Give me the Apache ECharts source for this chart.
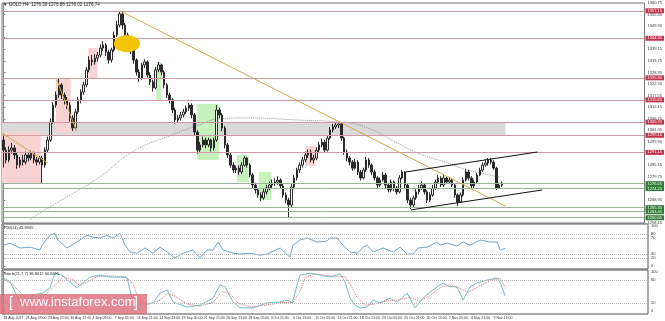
<!DOCTYPE html>
<html><head><meta charset="utf-8">
<script src="https://cdn.jsdelivr.net/npm/echarts@6/dist/echarts.min.js"></script>
<style>html,body{margin:0;padding:0;background:#fff}#c{width:665px;height:321px}</style>
</head><body><div id="c"></div>
<script>
const xLabels = ['18 Aug 2017','23 Aug 09:00','28 Aug 01:00','30 Aug 17:00','4 Sep 09:00','7 Sep 05:00','11 Sep 21:00','14 Sep 13:00','19 Sep 05:00','21 Sep 21:00','26 Sep 13:00','29 Sep 05:00','3 Oct 21:00','6 Oct 13:00','11 Oct 05:00','13 Oct 21:00','18 Oct 13:00','23 Oct 05:00','25 Oct 21:00','30 Oct 13:00','2 Nov 05:00','6 Nov 21:00','9 Nov 13:00'];
const yTickLabels = ['1258.15','1263.55','1268.95','1274.35','1279.75','1285.15','1290.55','1295.95','1301.35','1306.75','1312.15','1317.55','1322.95','1328.35','1333.75','1339.15','1344.55','1349.95','1355.35','1360.75'];
const firstOpen = 1296.9;
const closes = [
1292.2,1287.6,1292.2,1293.2,1289.9,1285.2,1287.6,1286.6,1289.9,1288.5,
1290.8,1287.6,1286.6,1288.5,1285.2,1292.2,1296.9,1305.3,1313.2,1317.9,
1322.6,1317.9,1315.6,1313.2,1307.2,1302.5,1310.0,1315.6,1319.3,1322.6,
1329.6,1334.2,1333.3,1335.1,1336.5,1339.8,1341.2,1337.9,1334.2,1338.9,
1345.9,1350.5,1355.7,1350.5,1345.9,1341.2,1338.9,1334.2,1328.6,1325.8,
1331.9,1333.3,1327.2,1324.0,1321.2,1329.6,1331.9,1328.6,1322.6,1317.9,
1315.6,1310.9,1306.2,1307.2,1308.6,1310.0,1311.8,1313.2,1308.6,1300.6,
1292.2,1294.6,1296.9,1294.6,1296.9,1293.2,1296.9,1310.9,1308.6,1302.5,
1294.6,1289.9,1285.2,1282.9,1283.8,1282.0,1285.2,1288.5,1285.2,1280.6,
1275.9,1273.6,1271.3,1269.9,1272.7,1274.5,1275.9,1276.8,1277.3,1278.2,
1275.5,1271.3,1268.9,1266.6,1275.0,1279.2,1282.9,1285.2,1287.6,1289.9,
1291.3,1287.6,1288.5,1292.2,1294.6,1295.9,1292.2,1297.8,1301.6,1303.0,
1303.9,1304.4,1297.8,1291.3,1288.5,1286.6,1283.8,1286.6,1282.0,1279.2,
1282.9,1287.6,1285.2,1282.0,1279.2,1275.9,1278.2,1280.6,1275.9,1273.6,
1277.3,1274.5,1272.7,1279.2,1282.0,1275.9,1268.9,1266.6,1269.9,1272.7,
1274.5,1275.9,1272.7,1268.9,1271.3,1274.5,1277.3,1279.2,1275.9,1279.2,
1277.3,1278.2,1275.9,1271.3,1268.0,1271.3,1278.2,1282.0,1279.2,1275.5,
1277.3,1280.6,1282.9,1285.2,1286.2,1287.6,1286.6,1283.8,1274.5,1275.9,1276.74];
const highs = [
1299.5,1293.5,1294.0,1295.5,1294.5,1291.0,1289.0,1290.0,1291.5,1291.0,
1292.0,1291.5,1289.0,1289.5,1289.5,1293.5,1298.5,1307.0,1314.5,1319.5,
1325.8,1323.5,1319.0,1317.0,1314.5,1308.5,1311.5,1317.0,1320.5,1324.0,
1331.0,1336.0,1336.5,1337.0,1338.0,1341.5,1343.0,1342.0,1339.0,1340.0,
1347.5,1352.5,1357.1,1356.5,1351.5,1347.0,1343.0,1340.0,1335.0,1330.0,
1333.0,1334.5,1334.0,1328.5,1325.0,1331.0,1333.3,1332.5,1329.5,1323.5,
1319.0,1316.5,1312.0,1308.5,1310.0,1311.5,1313.0,1314.2,1314.0,1309.5,
1301.5,1296.0,1298.5,1298.0,1298.0,1297.5,1298.0,1313.2,1312.0,1309.5,
1303.5,1295.5,1291.0,1286.5,1285.0,1285.0,1286.5,1289.4,1289.0,1286.0,
1281.5,1277.0,1274.5,1272.5,1274.0,1276.0,1277.5,1278.5,1279.0,1280.0,
1279.0,1276.5,1272.5,1270.0,1276.5,1280.5,1284.0,1286.5,1289.0,1291.5,
1292.5,1292.5,1290.0,1293.5,1296.0,1297.5,1297.0,1299.0,1303.0,1304.5,
1305.3,1305.2,1305.0,1298.5,1292.5,1289.5,1287.5,1288.0,1287.5,1283.0,
1284.0,1289.0,1288.5,1286.0,1283.0,1280.0,1279.5,1282.0,1281.5,1277.0,
1278.5,1278.0,1275.5,1280.5,1282.9,1282.5,1276.5,1270.0,1271.0,1274.0,
1276.0,1277.5,1276.5,1273.5,1272.5,1276.0,1278.5,1280.5,1280.0,1280.5,
1280.0,1279.5,1279.0,1276.5,1272.0,1272.5,1279.5,1283.5,1283.0,1280.0,
1278.5,1281.5,1284.0,1286.5,1287.5,1288.5,1288.5,1287.5,1284.5,1277.0,1277.5];
const lows = [
1284.0,1286.0,1286.5,1290.5,1288.0,1283.5,1284.0,1285.0,1285.5,1287.0,
1287.5,1286.0,1285.0,1285.5,1276.8,1284.0,1291.0,1296.0,1304.5,1312.0,
1316.5,1316.0,1313.5,1311.5,1305.5,1301.1,1301.5,1309.0,1314.0,1318.0,
1321.5,1328.5,1331.5,1332.0,1333.5,1335.5,1338.5,1336.0,1332.5,1333.0,
1338.0,1345.0,1349.5,1348.5,1344.0,1339.5,1337.0,1332.5,1327.0,1324.0,
1325.0,1330.5,1326.0,1322.5,1319.5,1320.5,1328.5,1327.0,1321.0,1316.5,
1314.0,1309.5,1304.5,1305.0,1306.0,1307.5,1309.0,1310.5,1307.0,1299.0,
1290.5,1291.0,1293.5,1293.0,1293.5,1291.5,1292.0,1296.0,1307.0,1301.0,
1293.0,1288.5,1284.0,1281.5,1281.5,1280.5,1281.0,1284.5,1284.0,1279.5,
1274.5,1272.0,1270.0,1268.5,1269.0,1271.5,1273.5,1274.5,1275.5,1276.0,
1274.5,1270.0,1267.5,1261.0,1265.5,1274.0,1278.0,1281.5,1284.0,1286.5,
1288.5,1286.5,1286.0,1287.5,1291.0,1293.5,1291.0,1291.5,1297.0,1300.5,
1302.0,1302.5,1296.5,1290.0,1287.0,1285.0,1282.5,1283.0,1280.5,1278.0,
1278.5,1282.0,1284.0,1280.5,1278.0,1274.5,1275.0,1277.5,1274.5,1272.5,
1272.5,1273.0,1271.5,1272.0,1278.5,1274.5,1267.5,1264.7,1265.5,1269.0,
1271.5,1273.5,1271.5,1267.5,1268.0,1270.5,1273.5,1276.5,1275.0,1275.0,
1276.5,1276.5,1275.0,1270.0,1266.1,1267.5,1270.5,1277.5,1278.0,1274.5,
1274.5,1276.5,1280.0,1282.0,1284.5,1285.0,1285.5,1283.0,1273.6,1274.0,1275.0];
const resistanceLevels = [1357.15,1344.35,1325.90,1315.65,1305.25,1299.10,1291.15];
const supportLevels = [1276.55,1274.25,1265.35,1263.45,1260.65];
// zones: [startSlot, endSlot, lowPrice, highPrice]
const pinkZones = [[-0.5,13.5,1276.8,1300.6],[18.9,24.3,1300.2,1325.8],[30.7,34.0,1325.8,1339.8],[109.0,112.6,1284.8,1294.1]];
const greenZones = [[55.2,57.0,1315.6,1333.3],[69.9,77.8,1287.6,1313.7],[84.3,88.6,1277.3,1289.9],[92.2,96.8,1268.9,1282.0]];
const grayZone = [-0.5,181.3,1299.10,1305.25];
const maLine = [[9.6,1259.6],[10.3,1260.5],[22.8,1270.3],[34.7,1279.6],[46.5,1291.3],[58.8,1298.3],[70.6,1303.9],[77.8,1306.7],[88.6,1307.2],[106.5,1306.2],[120.9,1305.3],[130.6,1303.0],[142.3,1295.5],[149.6,1290.8],[160.4,1286.2],[167.6,1282.9],[179.5,1279.6]];
const longTrend = [[42.2,1357.1],[181.3,1266.1]];
const shortTrend1 = [[-0.5,1300.2],[16.0,1286.2]];
const shortTrend2 = [[19.3,1324.9],[26.4,1301.1]];
const channelUpper = [[145.3,1282.0],[192.8,1291.3]];
const channelLower = [[147.1,1264.3],[194.5,1273.6]];
const highlight = [[44.6,1341.8]];
const rsi = [[0,52],[2.4,57],[6.0,45],[9.6,47],[13.1,40],[13.9,52],[16.7,77],[18.5,82],[19.6,65],[22.8,45],[26.4,60],[30.0,77],[32.2,72],[34.7,70],[37.2,77],[39.4,70],[41.9,82],[43.7,52],[45.5,35],[48.0,32],[50.9,45],[53.7,32],[56.3,47],[58.8,35],[61.6,20],[64.5,32],[68.1,40],[70.6,20],[73.1,40],[75.3,40],[77.1,60],[78.9,40],[82.5,32],[85.0,30],[88.6,32],[92.2,27],[94.7,30],[99.4,45],[102.9,22],[104.0,52],[106.5,65],[109.1,70],[112.6,60],[116.2,62],[117.3,70],[119.8,70],[122.0,52],[124.5,35],[127.0,32],[129.2,47],[130.6,52],[132.8,35],[136.4,45],[140.0,35],[142.5,47],[145.0,30],[147.1,30],[148.9,45],[152.2,47],[155.7,60],[156.8,52],[159.3,57],[162.9,50],[165.1,60],[167.6,52],[171.2,65],[174.8,60],[177.3,60],[178.4,40],[180.2,43.89]];
const stochMain = [[0,85],[2.4,75],[6.0,23],[8.5,15],[10.6,41],[14.2,46],[16.7,59],[18.5,97],[21.0,92],[23.9,74],[26.4,59],[28.6,72],[31.1,87],[34.7,92],[38.3,87],[41.9,87],[44.4,85],[46.2,33],[48.0,15],[50.1,15],[53.7,21],[56.3,46],[58.8,54],[60.9,23],[65.9,10],[70.6,15],[75.3,33],[77.8,67],[79.6,62],[82.5,23],[85.0,8],[89.7,8],[94.7,21],[99.4,23],[101.9,28],[103.7,21],[106.5,92],[110.1,97],[113.7,92],[117.3,87],[120.9,95],[122.7,74],[124.5,33],[126.3,15],[128.1,8],[130.6,10],[132.8,28],[135.3,21],[138.9,33],[141.4,23],[145.0,46],[147.8,8],[150.7,33],[154.3,54],[157.9,72],[160.4,62],[162.9,62],[165.1,28],[167.6,62],[170.1,72],[173.7,79],[177.3,85],[178.4,74],[180.2,38.8]];
const stochSignal = [[0,82],[3.1,70],[7.8,35],[11.3,25],[14.9,40],[18.5,65],[21.4,88],[25.0,80],[27.5,65],[30.4,75],[33.6,88],[38.3,90],[43.7,88],[46.6,70],[48.0,40],[49.8,20],[52.7,18],[56.3,28],[58.8,45],[61.6,38],[65.9,18],[70.6,12],[75.3,22],[78.5,50],[81.4,45],[84.3,20],[88.6,10],[94.0,15],[100.4,22],[104.0,22],[106.5,50],[108.3,85],[111.9,95],[117.3,90],[122.7,88],[124.5,70],[127.0,35],[129.9,15],[133.5,18],[137.0,25],[141.4,28],[146.0,35],[149.6,25],[153.2,40],[156.8,60],[160.4,67],[164.0,58],[166.9,48],[170.5,62],[174.8,78],[178.4,84],[180.2,60.8]];

const nSlots = 232;
const cats = Array.from({length:nSlots},(_,i)=>String(i));
const candles = closes.map((c,i)=>[i===0?firstOpen:closes[i-1], c, lows[i], highs[i]]);
const FONT = 'Liberation Sans';

function zoneArea(z,color){return [{xAxis:z[0],yAxis:z[2],itemStyle:{color}},{xAxis:z[1],yAxis:z[3]}];}
const areas = [zoneArea(grayZone,'#d9d9d9')]
  .concat(pinkZones.map(z=>zoneArea(z,'#f8d3d3')))
  .concat(greenZones.map(z=>zoneArea(z,'#c6f2bd')));

const lvlLabel = (bg)=>({show:true,position:'end',distance:1,formatter:p=>p.value.toFixed(2),backgroundColor:bg,color:'#fff',fontSize:4,fontFamily:FONT,padding:[0,2],lineHeight:5});
const hLines = resistanceLevels.map(v=>({yAxis:v,lineStyle:{color:'#cf9aa4',width:1,type:'solid'},label:lvlLabel('#c2344c')}))
  .concat(supportLevels.map(v=>({yAxis:v,lineStyle:{color:'#9bb59b',width:1,type:'solid'},label:lvlLabel('#2f7d34')})));

function trend(data,color,w){return {type:'line',xAxisIndex:1,yAxisIndex:0,data,symbol:'none',z:6,lineStyle:{color,width:w||1},silent:true};}

const small = {fontSize:4,fontFamily:FONT,color:'#333'};
const chart = echarts.init(document.getElementById('c'),null,{renderer:'canvas'});
chart.setOption({
  animation:false,
  backgroundColor:'#fff',
  textStyle:{fontFamily:FONT},
  title:[
    {text:'▼ GOLD,H4  1276.30 1276.88 1276.02 1276.74',left:3,top:2,padding:0,textStyle:{fontSize:4.5,fontWeight:'normal',color:'#222',fontFamily:FONT}},
    {text:'RSI(14) 43.8905',left:4,top:226,padding:0,textStyle:{fontSize:4,fontWeight:'normal',color:'#222',fontFamily:FONT}},
    {text:'Stoch(21,7,7) 38.8012 60.8495',left:4,top:272,padding:0,textStyle:{fontSize:4,fontWeight:'normal',color:'#222',fontFamily:FONT}}
  ],
  grid:[
    {left:2,right:17,top:3,height:220,show:true,borderColor:'#777',borderWidth:1},
    {left:2,right:17,top:224,height:45,show:true,borderColor:'#555',borderWidth:1},
    {left:2,right:17,top:270,height:44,show:true,borderColor:'#555',borderWidth:1}
  ],
  xAxis:[
    {type:'category',gridIndex:0,data:cats,show:false},
    {type:'value',gridIndex:0,min:-0.5,max:nSlots-0.5,show:false},
    {type:'category',gridIndex:1,data:cats,show:false},
    {type:'value',gridIndex:1,min:-0.5,max:nSlots-0.5,show:false},
    {type:'category',gridIndex:2,data:cats,axisLine:{show:false},axisTick:{show:false},splitLine:{show:false},
      axisLabel:{interval:7,showMinLabel:true,hideOverlap:false,fontSize:3.5,fontFamily:FONT,color:'#333',align:'left',margin:2,formatter:(v,idx)=>xLabels[idx/8]||''}},
    {type:'value',gridIndex:2,min:-0.5,max:nSlots-0.5,show:false}
  ],
  yAxis:[
    {type:'value',gridIndex:0,position:'right',min:1258.2,max:1360.8,interval:5.4,
      axisLine:{show:true,lineStyle:{color:'#888'}},axisTick:{show:true,length:2,lineStyle:{color:'#888'}},splitLine:{show:false},
      axisLabel:{...small,margin:3,formatter:v=>yTickLabels[Math.round((v-1258.2)/5.4)]||''}},
    {type:'value',gridIndex:1,position:'right',min:-7.5,max:105,
      axisLine:{show:true,lineStyle:{color:'#888'}},splitLine:{show:false},
      axisTick:{show:true,length:2,customValues:[0,20,30,70,80,100]},
      axisLabel:{...small,margin:3,customValues:[0,20,30,70,80,100]}},
    {type:'value',gridIndex:2,position:'right',min:-7.7,max:105.1,
      axisLine:{show:true,lineStyle:{color:'#888'}},splitLine:{show:false},
      axisTick:{show:true,length:2,customValues:[0,20,80,100]},
      axisLabel:{...small,margin:3,customValues:[0,20,80,100]}}
  ],
  graphic:[
    {type:'rect',left:0,top:294,shape:{width:147,height:20},style:{fill:'rgba(222,110,124,0.82)'},z:100},
    {type:'text',left:9,top:296,style:{text:'[',fill:'#fff',font:'14px "Liberation Sans"'},z:101},
    {type:'text',left:20,top:296,style:{text:'www.instaforex.com',fill:'#fff',font:'13px "Liberation Sans"'},z:101},
    {type:'text',left:134,top:296,style:{text:']',fill:'#fff',font:'14px "Liberation Sans"'},z:101}
  ],
  series:[
    {type:'line',xAxisIndex:1,yAxisIndex:0,data:[],z:1,silent:true,markArea:{silent:true,data:areas}},
    {type:'line',xAxisIndex:1,yAxisIndex:0,data:[],z:2,silent:true,markLine:{silent:true,symbol:'none',data:hLines}},
    {type:'line',xAxisIndex:1,yAxisIndex:0,data:maLine,smooth:true,symbol:'none',z:3,silent:true,lineStyle:{color:'#999',width:1,type:'dotted'}},
    {type:'candlestick',xAxisIndex:0,yAxisIndex:0,data:candles,barWidth:2,z:4,
      itemStyle:{color:'#ffffff',color0:'#2a2a2a',borderColor:'#2a2a2a',borderColor0:'#2a2a2a',borderWidth:1}},
    trend(longTrend,'#d6a94a'),
    trend(shortTrend1,'#d6a94a'),
    trend(shortTrend2,'#d6a94a'),
    trend(channelUpper,'#111'),
    trend(channelLower,'#111'),
    {type:'scatter',xAxisIndex:1,yAxisIndex:0,data:highlight,symbol:'circle',symbolSize:[26,17],z:7,silent:true,itemStyle:{color:'#f3c400',opacity:1}},
    {type:'line',xAxisIndex:3,yAxisIndex:1,data:rsi,symbol:'none',z:3,silent:true,lineStyle:{color:'#6ea6c6',width:1},
      markLine:{silent:true,symbol:'none',label:{show:false},lineStyle:{color:'#bbb',type:'dotted',width:1},data:[{yAxis:80},{yAxis:70},{yAxis:30},{yAxis:20}]}},
    {type:'line',xAxisIndex:5,yAxisIndex:2,data:stochSignal,symbol:'none',z:3,silent:true,lineStyle:{color:'#d46a6a',width:1,type:'dotted'},
      markLine:{silent:true,symbol:'none',label:{show:false},lineStyle:{color:'#bbb',type:'dotted',width:1},data:[{yAxis:80},{yAxis:20}]}},
    {type:'line',xAxisIndex:5,yAxisIndex:2,data:stochMain,symbol:'none',z:4,silent:true,lineStyle:{color:'#74bcc4',width:1}}
  ]
});
</script></body></html>
